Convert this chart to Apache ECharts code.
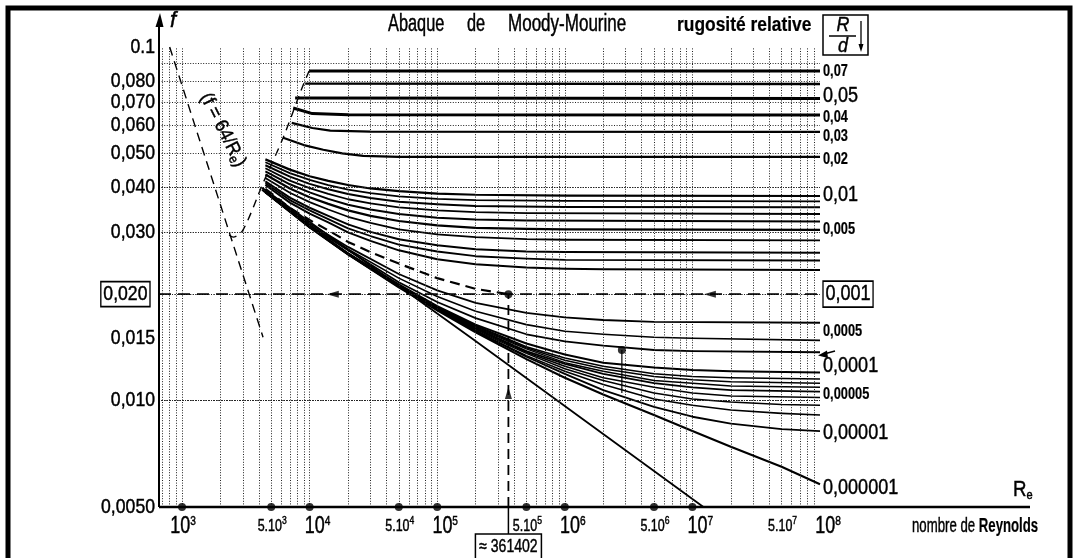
<!DOCTYPE html>
<html>
<head>
<meta charset="utf-8">
<title>Abaque de Moody-Mourine</title>
<script src="https://cdn.jsdelivr.net/npm/echarts@6/dist/echarts.min.js"></script>
<style>
  html, body { margin: 0; padding: 0; background: #fff; }
  #chart { width: 1075px; height: 558px; }
</style>
</head>
<body>
<div id="chart"></div>
<script>
const FONT = "'Liberation Sans',Arial,sans-serif";

// ---- axes ----
const reMin = 660, reMax = 1e8;
const fMin = 0.005, fMax = 0.1;

const reTickValues = [1e3, 5e3, 1e4, 5e4, 1e5, 5e5, 1e6, 5e6, 1e7, 5e7, 1e8];
const reTickLabels = ['10^3', '5.10^3', '10^4', '5.10^4', '10^5', '5.10^5', '10^6', '5.10^6', '10^7', '5.10^7', '10^8'];
const reDotValues = [1e3, 5e3, 1e4, 5e4, 1e5, 5e5, 1e6, 5e6, 1e7];

const fTickValues = [0.1, 0.08, 0.07, 0.06, 0.05, 0.04, 0.03, 0.02, 0.015, 0.01, 0.005];
const fTickLabels = ['0.1', '0,080', '0,070', '0,060', '0,050', '0,040', '0,030', '0,020', '0,015', '0,010', '0,0050'];

const fGridValues = [0.006, 0.007, 0.008, 0.009, 0.01, 0.0125, 0.015, 0.0175, 0.02, 0.025, 0.03, 0.035,
                     0.04, 0.045, 0.05, 0.06, 0.07, 0.08, 0.09];
const reGridValues = [700, 800, 900,
  1e3, 2e3, 3e3, 4e3, 5e3, 6e3, 7e3, 8e3, 9e3,
  1e4, 2e4, 3e4, 4e4, 5e4, 6e4, 7e4, 8e4, 9e4,
  1e5, 2e5, 3e5, 4e5, 5e5, 6e5, 7e5, 8e5, 9e5,
  1e6, 2e6, 3e6, 4e6, 5e6, 6e6, 7e6, 8e6, 9e6,
  1e7, 2e7, 3e7, 4e7, 5e7, 6e7, 7e7, 8e7, 9e7];

// ---- friction factor curves, [Re, f], one per relative roughness R/d ----
const eps_0_07 = [[9900, 0.0855], [1e8, 0.0855]];
const eps_0_06 = [[9230, 0.0788], [1e8, 0.0786]];
const eps_0_05 = [[7700, 0.0717], [1e8, 0.0715]];
const eps_0_04 = [[7430, 0.0672], [10500, 0.0648], [20000, 0.0643], [1e8, 0.0642]];
const eps_0_03 = [[7240, 0.0610], [10500, 0.0590], [14500, 0.0580], [30000, 0.0576], [1e8, 0.0575]];
const eps_0_02 = [[6200, 0.0554], [9000, 0.0528], [12800, 0.0512], [18000, 0.0500], [26300, 0.0492], [50000, 0.0489], [1e8, 0.0489]];
const eps_0_01 = [[4500, 0.0481], [7000, 0.0450], [1e4, 0.0431], [1.4e4, 0.0418], [2e4, 0.0407], [3e4, 0.0398], [5e4, 0.0391], [1e5, 0.0385], [2e5, 0.0382], [1e6, 0.0380], [1e8, 0.0379]];
const eps_0_009 = [[4500, 0.0472], [7000, 0.0440], [1e4, 0.0421], [1.4e4, 0.0407], [2e4, 0.0395], [3e4, 0.0386], [5e4, 0.0378], [1e5, 0.0372], [2e5, 0.0369], [1e6, 0.0367], [1e8, 0.0366]];
const eps_0_008 = [[4500, 0.0463], [7000, 0.0430], [1e4, 0.0410], [1.4e4, 0.0396], [2e4, 0.0384], [3e4, 0.0374], [5e4, 0.0365], [1e5, 0.0359], [2e5, 0.0355], [1e6, 0.0353], [1e8, 0.0352]];
const eps_0_007 = [[4500, 0.0454], [7000, 0.0419], [1e4, 0.0399], [1.4e4, 0.0384], [2e4, 0.0371], [3e4, 0.0361], [5e4, 0.0352], [1e5, 0.0345], [2e5, 0.0341], [5e5, 0.0339], [1e8, 0.0337]];
const eps_0_006 = [[4500, 0.0445], [7000, 0.0409], [1e4, 0.0388], [1.4e4, 0.0372], [2e4, 0.0358], [3e4, 0.0347], [5e4, 0.0337], [1e5, 0.0329], [2e5, 0.0325], [5e5, 0.0323], [1e8, 0.0321]];
const eps_0_005 = [[4500, 0.0436], [7000, 0.0398], [1e4, 0.0376], [1.4e4, 0.0360], [2e4, 0.0345], [3e4, 0.0333], [5e4, 0.0322], [1e5, 0.0313], [2e5, 0.0308], [5e5, 0.0306], [1e6, 0.0305], [1e8, 0.0304]];
const eps_0_004 = [[4500, 0.0426], [7000, 0.0387], [1e4, 0.0364], [1.4e4, 0.0347], [2e4, 0.0331], [3e4, 0.0318], [5e4, 0.0305], [1e5, 0.0295], [2e5, 0.0290], [5e5, 0.0286], [1e6, 0.0285], [1e8, 0.0284]];
const eps_0_003 = [[4500, 0.0417], [7000, 0.0375], [1e4, 0.0351], [1.4e4, 0.0333], [2e4, 0.0315], [3e4, 0.0300], [5e4, 0.0286], [1e5, 0.0275], [2e5, 0.0268], [5e5, 0.0264], [1e6, 0.0263], [1e8, 0.0262]];
const eps_0_0025 = [[4500, 0.0412], [7000, 0.0369], [1e4, 0.0345], [1.4e4, 0.0326], [2e4, 0.0307], [3e4, 0.0292], [5e4, 0.0276], [1e5, 0.0264], [2e5, 0.0256], [5e5, 0.0252], [1e6, 0.0250], [1e8, 0.0249]];
const eps_0_002 = [[4500, 0.0407], [7000, 0.0363], [1e4, 0.0338], [1.4e4, 0.0319], [2e4, 0.0299], [3e4, 0.0283], [5e4, 0.0266], [1e5, 0.0251], [2e5, 0.0243], [5e5, 0.0238], [1e6, 0.0236], [2e6, 0.0235], [1e8, 0.0234]];
const eps_0_001 = [[4500, 0.0397], [7000, 0.0351], [1e4, 0.0324], [1.4e4, 0.0303], [2e4, 0.0281], [3e4, 0.0263], [5e4, 0.0244], [1e5, 0.0222], [2e5, 0.0207], [361402, 0.0200]];
const eps_0_0005 = [[4500, 0.0391], [1e4, 0.0317], [2e4, 0.0272], [5e4, 0.0228], [1e5, 0.0205], [2e5, 0.0189], [5e5, 0.0177], [1e6, 0.0172], [2e6, 0.0169], [5e6, 0.0167], [1e8, 0.0166]];
const eps_0_0003 = [[4500, 0.0390], [1e4, 0.0314], [2e4, 0.0268], [5e4, 0.0222], [1e5, 0.0197], [2e5, 0.0179], [5e5, 0.0164], [1e6, 0.0157], [2e6, 0.0154], [5e6, 0.0151], [1e7, 0.0150], [1e8, 0.0148]];
const eps_0_0002 = [[4500, 0.0390], [1e4, 0.0312], [2e4, 0.0266], [5e4, 0.0216], [1e5, 0.0190], [2e5, 0.0171], [5e5, 0.0154], [1e6, 0.0147], [2e6, 0.0143], [5e6, 0.0139], [1e7, 0.0138], [1e8, 0.0137]];
const eps_0_0001 = [[4500, 0.0389], [1e4, 0.0311], [2e4, 0.0261], [5e4, 0.0213], [1e5, 0.0185], [2e5, 0.0164], [5e5, 0.0145], [1e6, 0.0135], [2e6, 0.0128], [5e6, 0.0124], [1e7, 0.0122], [2e7, 0.0121], [1e8, 0.0120]];
const eps_0_00008 = [[4500, 0.0389], [1e4, 0.0311], [2e4, 0.0261], [5e4, 0.0212], [1e5, 0.0184], [2e5, 0.0163], [5e5, 0.0142], [1e6, 0.0132], [2e6, 0.0125], [5e6, 0.0119], [1e7, 0.0117], [2e7, 0.0116], [1e8, 0.0115]];
const eps_0_00007 = [[4500, 0.0389], [1e4, 0.0310], [2e4, 0.0260], [5e4, 0.0212], [1e5, 0.0184], [2e5, 0.0162], [5e5, 0.0141], [1e6, 0.0130], [2e6, 0.0123], [5e6, 0.0117], [1e7, 0.01146], [2e7, 0.0113], [1e8, 0.0112]];
const eps_0_00006 = [[4500, 0.0389], [1e4, 0.0310], [2e4, 0.0260], [5e4, 0.0211], [1e5, 0.0183], [2e5, 0.0161], [5e5, 0.0140], [1e6, 0.0128], [2e6, 0.0121], [5e6, 0.0114], [1e7, 0.0112], [2e7, 0.0110], [1e8, 0.0109]];
const eps_0_00005 = [[4500, 0.0389], [1e4, 0.0310], [2e4, 0.0260], [5e4, 0.0211], [1e5, 0.0183], [2e5, 0.0160], [5e5, 0.0138], [1e6, 0.0127], [2e6, 0.0119], [5e6, 0.0112], [1e7, 0.0109], [2e7, 0.0107], [1e8, 0.0106]];
const eps_0_00004 = [[4500, 0.0389], [1e4, 0.0310], [2e4, 0.0260], [5e4, 0.0211], [1e5, 0.0182], [2e5, 0.0159], [5e5, 0.0137], [1e6, 0.0125], [2e6, 0.0116], [5e6, 0.0109], [1e7, 0.0105], [2e7, 0.0103], [1e8, 0.0102]];
const eps_0_00003 = [[4500, 0.0389], [1e4, 0.0310], [2e4, 0.0260], [5e4, 0.0210], [1e5, 0.0182], [2e5, 0.0158], [5e5, 0.0136], [1e6, 0.0123], [2e6, 0.0114], [5e6, 0.0105], [1e7, 0.0101], [2e7, 0.0099], [5e7, 0.00975], [1e8, 0.0097]];
const eps_0_00002 = [[4500, 0.0388], [1e4, 0.0310], [2e4, 0.0259], [5e4, 0.0210], [1e5, 0.0181], [2e5, 0.0157], [5e5, 0.0134], [1e6, 0.0121], [2e6, 0.0111], [5e6, 0.0101], [1e7, 0.0097], [2e7, 0.0094], [5e7, 0.0092], [1e8, 0.0091]];
const eps_0_00001 = [[4500, 0.0388], [1e4, 0.0309], [2e4, 0.0259], [5e4, 0.0210], [1e5, 0.0181], [2e5, 0.0157], [5e5, 0.0133], [1e6, 0.0119], [2e6, 0.0107], [5e6, 0.0096], [1e7, 0.0090], [2e7, 0.0086], [5e7, 0.0083], [1e8, 0.0082]];
const eps_0_000001 = [[4240, 0.0395], [1e4, 0.0309], [2e4, 0.0259], [5e4, 0.0209], [1e5, 0.0180], [2e5, 0.0156], [5e5, 0.0131], [1e6, 0.0116], [2e6, 0.0104], [5e6, 0.0091], [1e7, 0.0082], [2e7, 0.0074], [5e7, 0.0065], [1e8, 0.0058]];

// straight smooth-pipe line (Blasius)
const blasiusLine = [[4240, 0.0400], [1.91e5, 0.0149], [1.22e7, 0.0050]];
// laminar line (f = 64/Re) and the dashed boundary of the turbulent zone
const laminarLine = [[800, 0.100], [4315, 0.0151]];
const transitionLine = [[2340, 0.0294], [2520, 0.0290], [3010, 0.0304], [4315, 0.0412], [6190, 0.0553], [8720, 0.0766], [9900, 0.0855]];

// worked reading: R/d = 0,001 gives f = 0,020 at Re ≈ 361402
const readingRe = 361402;
const readingF = 0.020;
const readingText = '≈ 361402';
const leftArrowRe = [15200, 1.37e7];
const upArrowF = 0.0105;
const markRe = 2.8e6;
const markF = [0.0105, 0.0139];

// right-hand roughness labels, each attached to the end of its curve
const roughLabelText = ['0,07', '0,05', '0,04', '0,03', '0,02', '0,01', '0,005', '0,001', '0,0005', '0,0001', '0,00005', '0,00001', '0,000001'];
const roughLabelCurve = [eps_0_07, eps_0_05, eps_0_04, eps_0_03, eps_0_02, eps_0_01, eps_0_005, null, eps_0_0005, eps_0_0001, eps_0_00005, eps_0_00001, eps_0_000001];

// ---- styling ----
const roughLabelBig = [false, true, false, false, false, true, false, true, false, true, false, true, true];
const roughLabelDy = [1, -3, 3, 5, 3, -1, 0, 0, 9, -7, 3, 2, 4];

const curveDefs = [
  [eps_0_07, 3], [eps_0_06, 2.4], [eps_0_05, 3], [eps_0_04, 3], [eps_0_03, 2.2], [eps_0_02, 2.2],
  [eps_0_01, 2.2], [eps_0_009, 1.8], [eps_0_008, 2], [eps_0_007, 1.8], [eps_0_006, 2], [eps_0_005, 2.2],
  [eps_0_004, 1.8], [eps_0_003, 2], [eps_0_0025, 1.8], [eps_0_002, 2],
  [eps_0_0005, 1.8], [eps_0_0003, 1.6], [eps_0_0002, 1.8], [eps_0_0001, 2],
  [eps_0_00008, 1.5], [eps_0_00007, 1.5], [eps_0_00006, 1.5], [eps_0_00005, 1.8],
  [eps_0_00004, 1.5], [eps_0_00003, 1.5], [eps_0_00002, 1.6], [eps_0_00001, 1.8], [eps_0_000001, 2.1]
];

function curve(data, width, dash, smooth) {
  return {
    type: 'line', data: data, symbol: 'none', showSymbol: false, silent: true,
    smooth: smooth || false, z: 4,
    lineStyle: { color: '#000', width: width, type: dash || 'solid', cap: 'butt', join: 'round' }
  };
}

const series = [];

// dotted graph-paper grid
series.push({
  type: 'line', data: [], silent: true, z: 1,
  markLine: {
    silent: true, symbol: 'none', animation: false, label: { show: false },
    lineStyle: { color: '#222', width: 1, type: [1, 1.6] },
    data: fGridValues.map(v => ({ yAxis: v })).concat(reGridValues.map(v => ({ xAxis: v })))
  }
});

curveDefs.forEach(([d, w]) => series.push(curve(d, w)));
series.push(curve(blasiusLine, 1.8));
series.push(curve(eps_0_001, 2.2, [10, 6]));
series.push(curve(laminarLine, 1.4, [9, 6]));
series.push(curve(transitionLine, 1.4, [8, 6], 0.3));
series.push(curve([[reMin, readingF], [reMax, readingF]], 1.8, [12, 7]));
series.push(curve([[readingRe, fMin], [readingRe, readingF]], 1.8, [10, 6]));
series.push(curve([[markRe, markF[0]], [markRe, markF[1]]], 1.2));

// arrowheads on the reading lines
series.push({
  type: 'scatter', silent: true, z: 6, symbol: 'triangle', symbolSize: [7, 12], symbolRotate: 90,
  itemStyle: { color: '#000' }, data: leftArrowRe.map(r => [r, readingF])
});
series.push({
  type: 'scatter', silent: true, z: 6, symbol: 'triangle', symbolSize: [7, 12],
  itemStyle: { color: '#000' }, data: [[readingRe, upArrowF]]
});
// reading point
series.push({
  type: 'scatter', silent: true, z: 6, symbolSize: 8,
  itemStyle: { color: '#000' }, data: [[readingRe, readingF], [markRe, markF[1]]]
});
// dots on the Reynolds axis
series.push({
  type: 'scatter', silent: true, z: 7, clip: false, symbolSize: 8,
  itemStyle: { color: '#000' }, data: reDotValues.map(v => [v, fMin])
});

const chart = echarts.init(document.getElementById('chart'), null, { renderer: 'canvas' });
chart.setOption({
  animation: false,
  backgroundColor: '#fff',
  textStyle: { fontFamily: FONT },
  grid: { left: 159, right: 255, top: 47, bottom: 51 },
  xAxis: {
    type: 'log', logBase: 10, min: reMin, max: reMax,
    axisLine: { show: false }, axisTick: { show: false }, axisLabel: { show: false }, splitLine: { show: false }
  },
  yAxis: {
    type: 'log', logBase: 10, min: fMin, max: fMax,
    axisLine: { show: false }, axisTick: { show: false }, axisLabel: { show: false }, splitLine: { show: false }
  },
  series: series
});

// ---- texts, frame and axes, placed from the axis scales ----
const toPx = (re, f) => chart.convertToPixel({ gridIndex: 0 }, [re, f]);
const p0 = toPx(reMin, fMin);
const ax = p0[0], ay = p0[1];
const xr = toPx(readingRe, fMin)[0];

// condensed lettering: text drawn with a horizontal squeeze and a hairline stroke for weight
function T(x, y, text, size, o) {
  o = o || {};
  const style = {
    text: text, fontSize: size, fontFamily: FONT, fill: '#000',
    fontWeight: o.bold ? 'bold' : 'normal', fontStyle: o.italic ? 'italic' : 'normal',
    align: o.align || 'left', verticalAlign: 'middle',
    stroke: '#000', lineWidth: o.bold ? 0.2 : 0.45
  };
  if (o.rich) style.rich = o.rich;
  if (o.box) { style.borderColor = '#000'; style.borderWidth = 1.6; style.padding = [3, 3, 1, 3]; }
  return { type: 'text', x: x, y: y, z: 20, silent: true, scaleX: o.sx || 1, rotation: o.rot || 0, style: style };
}
const R = (size, extra) => Object.assign({ fontSize: size, fontFamily: FONT, fill: '#000',
  stroke: '#000', lineWidth: 0.45 }, extra || {});

const graphics = [
  { type: 'rect', shape: { x: 8, y: 8, width: 1062, height: 562 }, z: 20, silent: true,
    style: { fill: 'none', stroke: '#000', lineWidth: 5 } },
  { type: 'line', shape: { x1: ax, y1: ay, x2: 1030, y2: ay }, z: 20, silent: true,
    style: { stroke: '#000', lineWidth: 2.6 } },
  { type: 'line', shape: { x1: ax, y1: ay, x2: ax, y2: 24 }, z: 20, silent: true,
    style: { stroke: '#000', lineWidth: 2 } },
  { type: 'polygon', shape: { points: [[ax + 1, 13], [ax - 3.5, 27], [ax + 4.5, 27]] }, z: 20, silent: true,
    style: { fill: '#000' } },
  T(ax + 11, 21, 'f', 22, { italic: true }),
  // connector and box for the Reynolds value
  { type: 'line', shape: { x1: xr, y1: ay, x2: xr, y2: 534 }, z: 20, silent: true,
    style: { stroke: '#000', lineWidth: 1.5 } },
  { type: 'rect', shape: { x: xr - 33, y: 534, width: 66, height: 30 }, z: 20, silent: true,
    style: { fill: '#fff', stroke: '#000', lineWidth: 1.5 } },
  T(xr, 547, readingText, 18, { align: 'center', sx: 0.78 }),
  // titles
  T(388, 25, 'Abaque', 23, { sx: 0.71 }),
  T(467, 25, 'de', 23, { sx: 0.71 }),
  T(508, 25, 'Moody-Mourine', 23, { sx: 0.74 }),
  T(677, 25, 'rugosité relative', 20, { bold: true, sx: 0.87 }),
  // R/d box
  { type: 'rect', shape: { x: 823, y: 15, width: 45, height: 40 }, z: 20, silent: true,
    style: { fill: 'none', stroke: '#000', lineWidth: 1.5 } },
  T(843, 25, 'R', 21, { italic: true, align: 'center', sx: 0.85 }),
  { type: 'line', shape: { x1: 829, y1: 36, x2: 856, y2: 36 }, z: 20, silent: true,
    style: { stroke: '#000', lineWidth: 1.5 } },
  T(843, 46, 'd', 21, { italic: true, align: 'center', sx: 0.85 }),
  { type: 'line', shape: { x1: 861, y1: 21, x2: 861, y2: 46 }, z: 20, silent: true,
    style: { stroke: '#000', lineWidth: 1.3 } },
  { type: 'polygon', shape: { points: [[861, 52], [858.5, 44], [863.5, 44]] }, z: 20, silent: true,
    style: { fill: '#000' } },
  // small pointer next to 0,0001
  { type: 'line', shape: { x1: 835, y1: 351, x2: 824, y2: 354 }, z: 20, silent: true,
    style: { stroke: '#000', lineWidth: 1.5 } },
  { type: 'polygon', shape: { points: [[818, 355.5], [827, 350.5], [828, 358]] }, z: 20, silent: true,
    style: { fill: '#000' } },
  // Reynolds caption
  T(1013, 490, '{r|R}{e|e}', 22, { sx: 0.85, rich: {
    r: R(22, { lineHeight: 24 }), e: R(13, { lineHeight: 12, verticalAlign: 'bottom' }) } }),
  T(912, 526, '{n|nombre de }{b|Reynolds}', 20, { sx: 0.66, rich: {
    n: R(20), b: R(20, { fontWeight: 'bold', lineWidth: 0.2 }) } }),
  // laminar line caption
  T(223, 130, '{a|(f = 64/R}{b|e}{a|)}', 19, { align: 'center', sx: 0.92, rot: -63 * Math.PI / 180, rich: {
    a: R(19, { lineHeight: 22 }), b: R(13, { lineHeight: 14, verticalAlign: 'bottom' }) } })
];

// friction factor tick labels
fTickValues.forEach((v, i) => {
  const py = toPx(reMin, v)[1];
  const boxed = v === readingF;
  graphics.push(T(ax - (boxed ? 9 : 4), py, fTickLabels[i], 21, { align: 'right', sx: 0.84, box: boxed }));
});

// Reynolds tick labels
reTickValues.forEach((v, i) => {
  const px = toPx(v, fMin)[0];
  const parts = reTickLabels[i].split('^');
  const big = parts[0] === '10';
  const dx = big ? (i === 0 ? 1 : 8) : 1;
  const text = big ? '{b|10}{s|' + parts[1] + '}' : '{m|' + parts[0] + '}{t|' + parts[1] + '}';
  graphics.push(T(px + dx, 527, text, 23, { align: 'center', sx: 0.78, rich: {
    b: R(23, { lineHeight: 24 }), s: R(13, { lineHeight: 13, verticalAlign: 'top' }),
    m: R(16, { lineHeight: 24 }), t: R(11, { lineHeight: 12, verticalAlign: 'top' }) } }));
});

// roughness labels on the right edge
roughLabelText.forEach((t, i) => {
  const c = roughLabelCurve[i];
  const fv = c ? c[c.length - 1][1] : readingF;
  const py = toPx(reMax, fv)[1] + roughLabelDy[i];
  const big = roughLabelBig[i];
  graphics.push(T(823, py, t, big ? 22 : 16, { bold: !big, sx: big ? 0.82 : 0.8, box: !c }));
});

chart.setOption({ graphic: graphics });
</script>
</body>
</html>
